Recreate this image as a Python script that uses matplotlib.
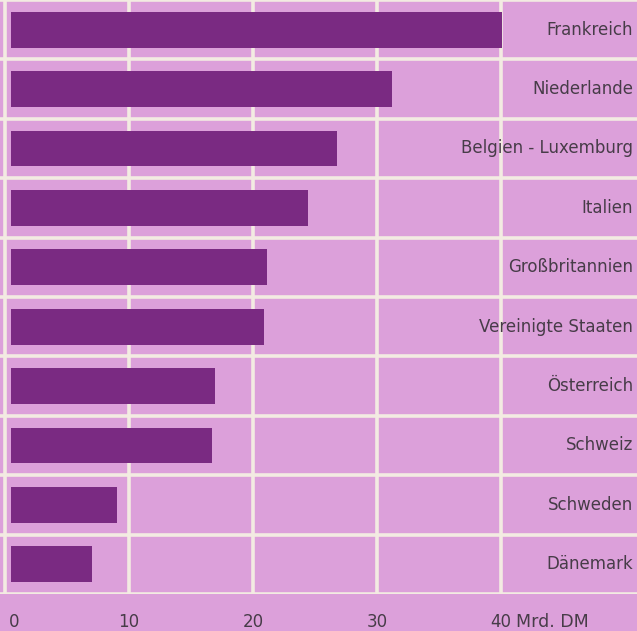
import matplotlib
matplotlib.use("Agg")
import matplotlib.pyplot as plt
from matplotlib.transforms import blended_transform_factory

BG = "#dca0da"
BAR = "#7a2a82"
GRID = "#f3ebe2"
TXT = "#473c48"

countries = [
    "Frankreich",
    "Niederlande",
    "Belgien - Luxemburg",
    "Italien",
    "Großbritannien",
    "Vereinigte Staaten",
    "Österreich",
    "Schweiz",
    "Schweden",
    "Dänemark",
]
values = [40.1, 31.2, 26.8, 24.4, 21.1, 20.9, 16.9, 16.7, 9.0, 7.0]
tick_vals = [0, 10, 20, 30, 40]
unit = "Mrd. DM"

W, H = 637, 631
fig = plt.figure(figsize=(W / 100, H / 100), dpi=100)
fig.patch.set_facecolor(BG)
ax = fig.add_axes([0, 1 - 594 / H, 1, 594 / H])
ax.set_facecolor(BG)
for s in ax.spines.values():
    s.set_visible(False)

n = len(countries)
ax.set_xlim(-0.4, 50.97)
ax.set_ylim(n - 0.5, -0.5)

# grid: vertical lines at ticks, horizontal separators between rows
for t in tick_vals:
    ax.axvline(t, color=GRID, lw=2.6, zorder=1)
for k in range(n + 1):
    ax.axhline(k - 0.5, color=GRID, lw=2.6, zorder=1)

bar_start = 0.5
ax.barh(range(n), [v - bar_start for v in values], left=bar_start,
        height=0.6, color=BAR, zorder=2)

lab_tr = blended_transform_factory(ax.transAxes, ax.transData)
for i, name in enumerate(countries):
    ax.text(0.994, i, name, transform=lab_tr, ha="right", va="center",
            fontsize=12, color=TXT)

ax.set_yticks([])
ax.set_xticks([])
tr = blended_transform_factory(ax.transData, fig.transFigure)
ty = 1 - 622 / H
for t in tick_vals:
    if t == 0:
        ax.text(t + 0.3, ty, str(t), transform=tr, ha="left", va="center",
                fontsize=12, color=TXT)
    else:
        ax.text(t, ty, str(t), transform=tr, ha="center", va="center",
                fontsize=12, color=TXT)
ax.text(tick_vals[-1] + 1.2, ty, unit, transform=tr, ha="left", va="center",
        fontsize=12.5, color=TXT)

plt.savefig("out.png", dpi=100, facecolor=BG)
plt.close()
